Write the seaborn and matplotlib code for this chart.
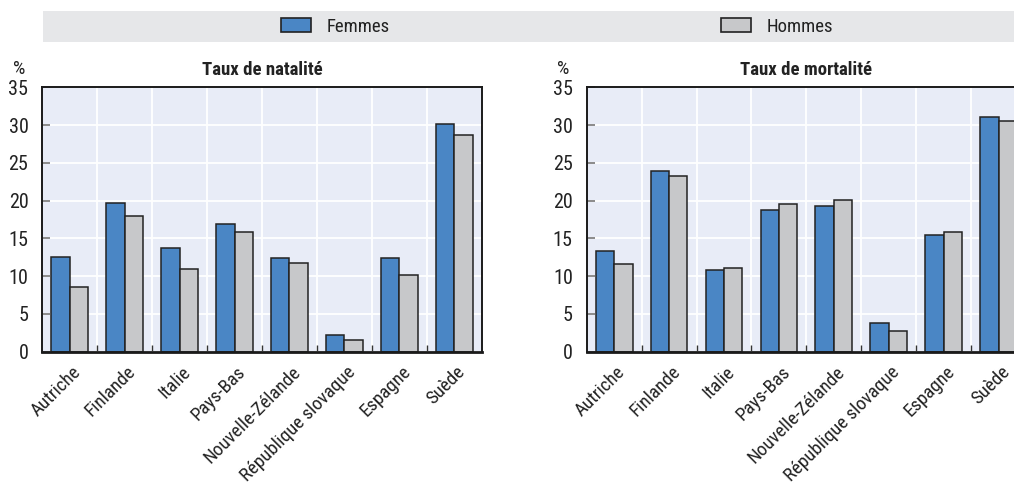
import matplotlib
matplotlib.use("Agg")
import matplotlib.pyplot as plt
from matplotlib.patches import Patch, Rectangle
from matplotlib.ticker import FixedLocator
from matplotlib.transforms import ScaledTranslation
import pandas as pd
import seaborn as sns

# Data
countries = ["Autriche", "Finlande", "Italie", "Pays-Bas", "Nouvelle-Zélande",
             "République slovaque", "Espagne", "Suède"]
series = ["Femmes", "Hommes"]
natalite_femmes = [12.6, 19.7, 13.7, 16.9, 12.4, 2.2, 12.4, 30.2]
natalite_hommes = [8.6, 18.0, 11.0, 15.8, 11.8, 1.5, 10.2, 28.7]
mortalite_femmes = [13.3, 23.9, 10.8, 18.8, 19.3, 3.8, 15.4, 31.1]
mortalite_hommes = [11.6, 23.3, 11.1, 19.5, 20.1, 2.7, 15.8, 30.6]
panel_titles = ["Taux de natalité", "Taux de mortalité"]
y_ticks = [0, 5, 10, 15, 20, 25, 30, 35]

# Styling
BLUE = "#4a86c5"
GREY = "#c7c8ca"
EDGE = "#222222"
TEXT = "#222222"
PANEL_BG = "#e8ecf7"
BAND_BG = "#e6e7e9"
palette = {"Femmes": BLUE, "Hommes": GREY}

sns.set_theme(style="white")
plt.rcParams["font.family"] = ["Roboto Condensed", "DejaVu Sans"]


def long_table(femmes, hommes):
    return pd.DataFrame({
        "pays": countries * 2,
        "sexe": [series[0]] * len(countries) + [series[1]] * len(countries),
        "valeur": list(femmes) + list(hommes),
    })


tables = [long_table(natalite_femmes, natalite_hommes),
          long_table(mortalite_femmes, mortalite_hommes)]

W, H = 1014, 483
fig = plt.figure(figsize=(W / 100, H / 100), dpi=100)

# Legend band across the top
fig.patches.append(Rectangle((43 / W, 1 - 42 / H), 1 - 43 / W, 31 / H,
                             transform=fig.transFigure, facecolor=BAND_BG,
                             edgecolor="none", zorder=0))
for name, x_left in zip(series, [281, 721]):
    fig.legend(handles=[Patch(facecolor=palette[name], edgecolor=EDGE, linewidth=1.2)],
               labels=[name], loc="center left",
               bbox_to_anchor=(x_left / W, 1 - 26.5 / H),
               frameon=False, fontsize=13.5, borderpad=0, borderaxespad=0,
               handlelength=1.6, handleheight=0.8, handletextpad=0.85,
               labelcolor=TEXT)

# Panel placement (pixels: left, top, right, bottom)
boxes = [(42.3, 87.3, 481.7, 351.7), (586.7, 87.3, 1026.1, 351.7)]

for box, data, title in zip(boxes, tables, panel_titles):
    l, t, r, b = box
    ax = fig.add_axes([l / W, 1 - b / H, (r - l) / W, (b - t) / H])
    sns.barplot(data=data, x="pays", y="valeur", hue="sexe", hue_order=series,
                order=countries, palette=palette, width=0.67, gap=0,
                edgecolor=EDGE, linewidth=1.1, saturation=1, legend=False,
                errorbar=None, ax=ax)
    ax.set_facecolor(PANEL_BG)
    ax.set_xlim(-0.5, len(countries) - 0.5)
    ax.set_ylim(0, 35)
    ax.set_yticks(y_ticks)
    ax.set_xlabel("")
    ax.set_ylabel("")

    # Category boundaries carry the vertical grid and the small bottom ticks
    ax.xaxis.set_minor_locator(FixedLocator([i + 0.5 for i in range(len(countries) - 1)]))
    ax.set_axisbelow(True)
    ax.grid(axis="y", which="major", color="white", linewidth=1.3)
    ax.grid(axis="x", which="minor", color="white", linewidth=1.3)
    ax.grid(axis="x", which="major", visible=False)

    ax.tick_params(axis="x", which="major", length=0, pad=8, labelsize=13.6,
                   labelcolor=TEXT)
    ax.tick_params(axis="x", which="minor", direction="in", length=5, width=1,
                   color="#333333", bottom=True)
    ax.tick_params(axis="y", which="major", direction="in", length=6, width=1.2,
                   color="#777777", labelsize=14.5, labelcolor=TEXT, pad=10, left=True)
    shift = ScaledTranslation(2 / 100, 0, fig.dpi_scale_trans)
    for lab in ax.get_xticklabels():
        lab.set_rotation(45)
        lab.set_ha("right")
        lab.set_rotation_mode("anchor")
        lab.set_transform(lab.get_transform() + shift)

    for side, sp in ax.spines.items():
        sp.set_visible(True)
        sp.set_color("#1a1a1a")
        sp.set_linewidth(2.0 if side == "bottom" else 1.4)

    ax.set_title(title, fontsize=13.5, fontweight="bold", color=TEXT, pad=9)
    ax.annotate("%", xy=(0, 1), xycoords="axes fraction", xytext=(-17, 6.5),
                textcoords="offset points", ha="center", va="bottom",
                fontsize=14, color=TEXT)

fig.savefig("out.png", dpi=100)
